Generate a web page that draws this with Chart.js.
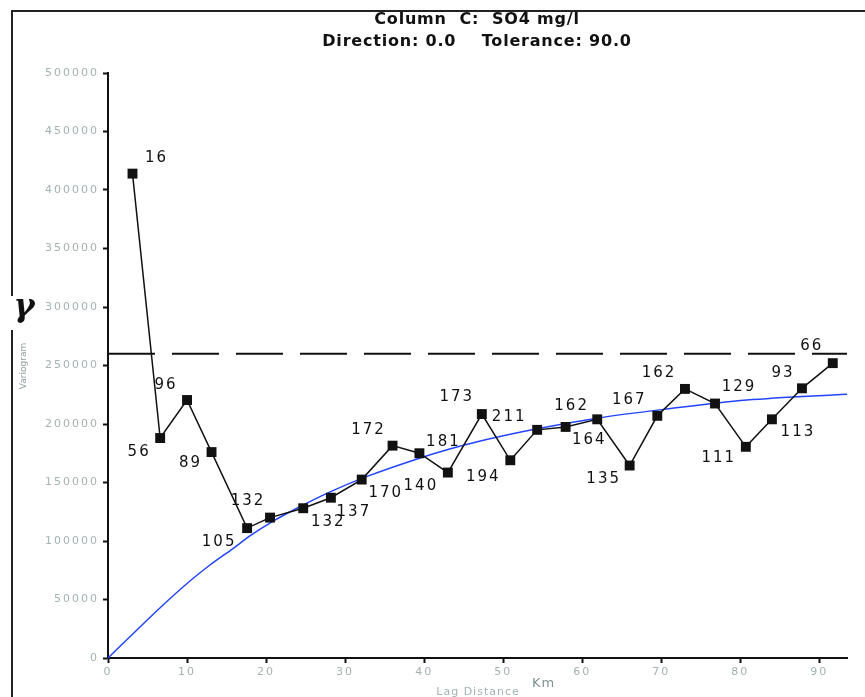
<!DOCTYPE html>
<html>
<head>
<meta charset="utf-8">
<script src="https://cdn.jsdelivr.net/npm/chart.js@4"></script>
<style>
  body { margin: 0; background: #fff; }
</style>
</head>
<body>
<canvas id="chart-variogram" width="865" height="697"></canvas>
<script>
// experimental variogram, lag (km) / gamma / number of pairs
var lag = [3.1, 6.6, 10.0, 13.1, 17.6, 20.5, 24.7, 28.2, 32.1, 36.0, 39.4, 43.0, 47.3,
           50.9, 54.3, 57.9, 61.9, 66.0, 69.5, 73.0, 76.8, 80.7, 84.0, 87.8, 91.7];
var gamma = [414000, 188000, 220500, 176000, 111000, 120000, 128000, 137000, 152500, 181500,
             175000, 158500, 208500, 169000, 195000, 197500, 204000, 164500, 207000, 230000,
             217500, 180500, 204000, 230500, 252000];
var pairs = [16, 56, 96, 89, 105, 132, 132, 137, 170, 172, 181, 140, 173,
             194, 211, 162, 164, 135, 167, 162, 129, 111, 113, 93, 66];

// fitted model (blue)
var modelLag = [0, 3.2, 6.6, 10.4, 12.9, 15.9, 18.0, 20.9, 23.9, 28.1, 32.7, 39.5,
                42.9, 47.1, 54.3, 61.9, 70.3, 80.8, 93.5];
var modelGamma = [0, 21000, 43000, 66000, 79500, 94000, 104500, 117000, 128000, 142000,
                  155000, 171000, 178000, 185500, 196000, 205000, 212500, 220500, 225500];

// sill
var sillLag = [0, 93.5];
var sillGamma = [260000, 260000];

// axis ticks
var xTicks = [0, 10, 20, 30, 40, 50, 60, 70, 80, 90];
var yTicks = [0, 50000, 100000, 150000, 200000, 250000, 300000, 350000, 400000, 450000, 500000];

// where each pair count sits relative to its point (px)
var labelDx = [23, -22, -22, -22, -29, -23, 24, 22, 23, -25, 23, -28, -26,
               -28, -29, 5, -9, -27, -29, -27, 23, -28, 25, -20, -22];
var labelDy = [-16, 14, -15, 11, 14, -16, 14, 14, 14, -16, -11, 14, -17,
               17, -13, -21, 21, 14, -16, -16, -16, 11, 13, -15, -17];

function pts(xs, ys) {
  var out = [];
  for (var i = 0; i < xs.length; i++) out.push({x: xs[i], y: ys[i]});
  return out;
}

var decor = {
  id: 'decor',
  beforeDraw: function (chart) {
    // wider tick text like the original
    chart.ctx.letterSpacing = '2px';
  },
  beforeDatasetsDraw: function (chart) {
    chart.ctx.letterSpacing = '0px';
  },
  afterDraw: function (chart) {
    var ctx = chart.ctx;
    ctx.save();

    // outer frame (top + left)
    ctx.strokeStyle = '#222';
    ctx.lineWidth = 2;
    ctx.beginPath();
    ctx.moveTo(865, 11);
    ctx.lineTo(12, 11);
    ctx.lineTo(12, 697);
    ctx.stroke();

    // title
    ctx.fillStyle = '#111';
    ctx.textAlign = 'center';
    ctx.textBaseline = 'middle';
    ctx.font = 'bold 16px "DejaVu Sans"';
    ctx.letterSpacing = '0.8px';
    ctx.fillText('Column  C:  SO4 mg/l', 477, 20);
    ctx.fillText('Direction: 0.0    Tolerance: 90.0', 477, 42);

    // pair counts
    var meta = chart.getDatasetMeta(0);
    ctx.font = '15px "DejaVu Sans"';
    ctx.letterSpacing = '2px';
    ctx.fillStyle = '#111';
    for (var i = 0; i < pairs.length; i++) {
      var p = meta.data[i];
      ctx.fillText(String(pairs[i]), p.x + labelDx[i] + 1, p.y + labelDy[i]);
    }

    // y title: gamma symbol over the frame + "Variogram"
    ctx.letterSpacing = '0px';
    ctx.fillStyle = '#fff';
    ctx.fillRect(8, 296, 10, 34);
    ctx.fillStyle = '#111';
    ctx.font = 'bold italic 32px "DejaVu Serif"';
    ctx.fillText('\u03b3', 24, 308);
    ctx.save();
    ctx.translate(24, 366);
    ctx.rotate(-Math.PI / 2);
    ctx.font = '9px "DejaVu Sans"';
    ctx.fillStyle = '#8fa0a0';
    ctx.fillText('Variogram', 0, 0);
    ctx.restore();

    // x title
    ctx.font = '11px "DejaVu Sans"';
    ctx.fillStyle = '#a3b2b2';
    ctx.letterSpacing = '1px';
    ctx.fillText('Lag Distance', 478, 692);
    ctx.font = '13px "DejaVu Sans"';
    ctx.fillStyle = '#7f9090';
    ctx.textAlign = 'left';
    ctx.fillText('Km', 532, 684);

    ctx.restore();
  }
};

var ctx = document.getElementById('chart-variogram').getContext('2d');
var chart = new Chart(ctx, {
  type: 'scatter',
  data: {
    datasets: [
      {
        data: pts(lag, gamma),
        showLine: true,
        borderColor: '#111',
        borderWidth: 1.5,
        pointStyle: 'rect',
        pointRadius: 7,
        pointBackgroundColor: '#111',
        pointBorderColor: '#111',
        pointBorderWidth: 0
      },
      {
        data: pts(modelLag, modelGamma),
        showLine: true,
        borderColor: '#2244ff',
        borderWidth: 1.5,
        pointRadius: 0,
        cubicInterpolationMode: 'monotone'
      },
      {
        data: pts(sillLag, sillGamma),
        showLine: true,
        borderColor: '#111',
        borderWidth: 2,
        borderDash: [47, 17],
        pointRadius: 0
      }
    ]
  },
  options: {
    responsive: false,
    animation: false,
    devicePixelRatio: 1,
    layout: { padding: { top: 73, right: 18, left: 0, bottom: 0 } },
    plugins: {
      legend: { display: false },
      tooltip: { enabled: false }
    },
    scales: {
      x: {
        type: 'linear',
        min: 0,
        max: 93.5,
        afterFit: function (s) { s.height = 39; },
        afterBuildTicks: function (s) {
          s.ticks = xTicks.map(function (v) { return {value: v}; });
        },
        border: { display: true, color: '#111', width: 2 },
        grid: { display: true, drawOnChartArea: false, drawTicks: true, tickLength: 5, tickWidth: 2, tickColor: '#111' },
        ticks: { color: '#a3b2b2', font: { size: 11, family: 'DejaVu Sans' }, padding: 3, maxRotation: 0 }
      },
      y: {
        type: 'linear',
        min: 0,
        max: 500000,
        afterFit: function (s) { s.width = 108; },
        afterBuildTicks: function (s) {
          s.ticks = yTicks.map(function (v) { return {value: v}; });
        },
        border: { display: true, color: '#111', width: 2 },
        grid: { display: true, drawOnChartArea: false, drawTicks: true, tickLength: 5, tickWidth: 2, tickColor: '#111' },
        ticks: {
          color: '#a3b2b2',
          font: { size: 11, family: 'DejaVu Sans' },
          padding: 4,
          callback: function (v) { return String(v); }
        }
      }
    }
  },
  plugins: [decor]
});
</script>
</body>
</html>
